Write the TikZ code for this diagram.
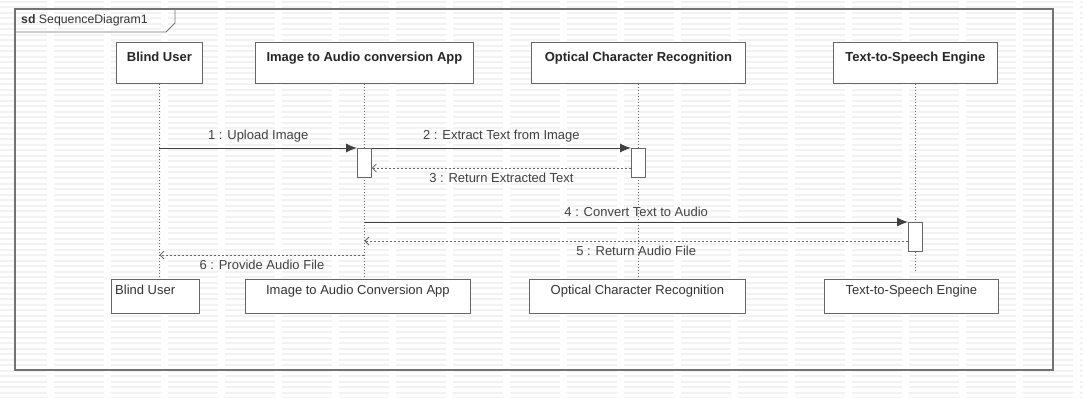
\documentclass[tikz,border=0pt]{standalone}
\usepackage{fontspec}
\setmainfont{Liberation Sans}
\usetikzlibrary{arrows.meta,calc}
\begin{document}
\begin{tikzpicture}[x=1pt,y=-1pt,
  font=\fontsize{13}{15}\selectfont,
  bgline/.style={line width=2pt, draw=black!5, dash pattern=on 50pt off 7pt, dash phase=3pt},
  frameline/.style={draw=black!55, line width=1.1pt},
  headbox/.style={draw=black!60, fill=white, line width=0.8pt, rectangle, inner sep=0pt, anchor=north west},
  headtxt/.style={anchor=north, inner sep=0pt, text=black!85},
  lifeline/.style={draw=black!60, line width=0.7pt, dash pattern=on 1.5pt off 1.5pt},
  actbox/.style={draw=black!60, fill=white, line width=0.8pt, rectangle, inner sep=0pt, minimum width=14pt, minimum height=29pt, anchor=north},
  syncmsg/.style={draw=black!75, line width=0.9pt, -{Latex[length=11pt,width=9pt]}},
  retmsg/.style={draw=black!60, line width=0.8pt, dash pattern=on 2pt off 2pt, -{Straight Barb[length=4pt,width=8pt]}},
  msglbl/.style={inner sep=0pt, text=black!75}
]
\useasboundingbox (0,0) rectangle (1083,398);
% background stripes
\foreach \r in {0,...,72} {
  \draw[bgline] (0,\r*5.5+2) -- (1083,\r*5.5+2);
}
% frame
\draw[frameline] (15,9) rectangle (1053,370);
\draw[frameline, line width=0.9pt] (15,32) -- (166,32) -- (175,23) -- (175,9);
\node[anchor=west, inner sep=0pt, text=black!80, font=\fontsize{12.3}{14}\selectfont] (title) at (21,20) {\textbf{sd} SequenceDiagram1};

% head boxes
\node[headbox, minimum width=86pt, minimum height=41pt] (bu) at (116,42) {};
\node[headtxt, font=\fontsize{13}{15}\selectfont\bfseries] (butxt) at ($(bu.north)+(0,10)$) {Blind User};
\node[headbox, minimum width=218pt, minimum height=41pt] (ia) at (255,42) {};
\node[headtxt, font=\fontsize{13}{15}\selectfont\bfseries] (iatxt) at ($(ia.north)+(0,10)$) {Image to Audio conversion App};
\node[headbox, minimum width=214pt, minimum height=41pt] (ocr) at (531,42) {};
\node[headtxt, font=\fontsize{13}{15}\selectfont\bfseries] (ocrtxt) at ($(ocr.north)+(0,10)$) {Optical Character Recognition};
\node[headbox, minimum width=164pt, minimum height=41pt] (tts) at (833,42) {};
\node[headtxt, font=\fontsize{13}{15}\selectfont\bfseries] (ttstxt) at ($(tts.north)+(0,10)$) {Text-to-Speech Engine};

% bottom boxes
\node[headbox, minimum width=88pt, minimum height=34pt] (bub) at (111,279) {};
\node[anchor=north west, inner sep=0pt, text=black!80] (bubtxt) at ($(bub.north west)+(4,6)$) {Blind User};
\node[headbox, minimum width=225pt, minimum height=34pt] (iab) at (245,279) {};
\node[headtxt, text=black!80] (iabtxt) at ($(iab.north)+(0,6)$) {Image to Audio Conversion App};
\node[headbox, minimum width=216pt, minimum height=34pt] (ocrb) at (529,279) {};
\node[headtxt, text=black!80] (ocrbtxt) at ($(ocrb.north)+(0,6)$) {Optical Character Recognition};
\node[headbox, minimum width=174pt, minimum height=34pt] (ttsb) at (824,279) {};
\node[headtxt, text=black!80] (ttsbtxt) at ($(ttsb.north)+(0,6)$) {Text-to-Speech Engine};

% message rows
\coordinate (y1) at (0,148);
\coordinate (y3) at (0,168);
\coordinate (y4) at (0,222);
\coordinate (y5) at (0,241);
\coordinate (y6) at (0,255);
\coordinate (yend) at (0,271);

% lifelines
\draw[lifeline] (bu.south) -- (bu.south |- bub.north);
\draw[lifeline] (ia.south) -- (ia.south |- iab.north);
\draw[lifeline] (ocr.south) -- (ocr.south |- ocrb.north);
\draw[lifeline] (tts.south) -- (tts.south |- yend);

% activations
\node[actbox] (a1) at (ia.south |- y1) {};
\node[actbox] (a2) at (ocr.south |- y1) {};
\node[actbox] (a3) at (tts.south |- y4) {};

% messages
\draw[syncmsg] (bu.south |- y1) -- (a1.north west)
  node[msglbl, midway, above=5pt] (l1) {1 : Upload Image};
\draw[syncmsg] (a1.north east) -- (a2.north west)
  node[msglbl, midway, above=5pt] (l2) {2 : Extract Text from Image};
\draw[retmsg] (a2.west |- y3) -- (a1.east |- y3)
  node[msglbl, midway, below=5pt] (l3) {3 : Return Extracted Text};
\draw[syncmsg] (ia.south |- y4) -- (a3.north west)
  node[msglbl, pos=0.5, above=5pt] (l4) {4 : Convert Text to Audio};
\draw[retmsg] (a3.west |- y5) -- (ia.south |- y5)
  node[msglbl, pos=0.5, below=5pt] (l5) {5 : Return Audio File};
\draw[retmsg] (ia.south |- y6) -- (bu.south |- y6)
  node[msglbl, midway, below=5pt] (l6) {6 : Provide Audio File};
\end{tikzpicture}
\end{document}
